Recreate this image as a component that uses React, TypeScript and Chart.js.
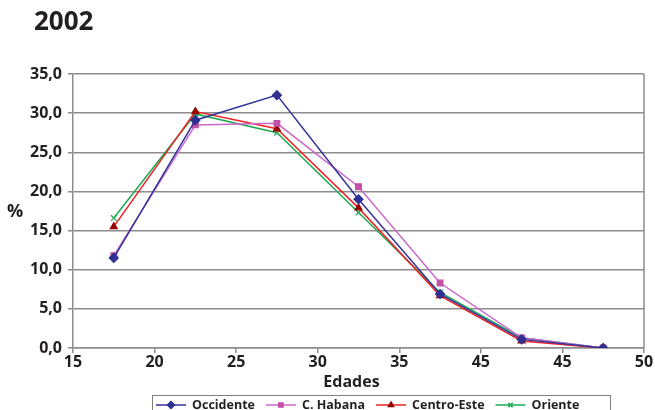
import React, { useEffect, useRef } from "react";
import { Chart, registerables } from "chart.js";
import { drawPoint } from "chart.js/helpers";

Chart.register(...registerables);

const edades = [17.5, 22.5, 27.5, 32.5, 37.5, 42.5, 47.5];
const occidente = [11.5, 29.1, 32.3, 19.0, 6.9, 1.1, 0.0];
const cHabana = [11.8, 28.5, 28.7, 20.6, 8.3, 1.3, 0.0];
const centroEste = [15.5, 30.2, 28.0, 17.9, 6.7, 0.9, 0.0];
const oriente = [16.6, 29.9, 27.5, 17.3, 7.1, 1.3, 0.0];

const xTickValues = [15, 20, 25, 30, 35, 40, 45, 50];
const xTickLabels = ["15", "20", "25", "30", "35", "45", "45", "50"];

const titleText = "2002";
const xTitle = "Edades";
const yTitle = "%";

const FONT = "'Open Sans', 'DejaVu Sans', sans-serif";

const series = [
  { label: "Occidente", data: occidente, line: "#333399", marker: "#2E3192", style: "rectRot", radius: 4.5 },
  { label: "C. Habana", data: cHabana, line: "#CC66CC", marker: "#C050A8", style: "rect", radius: 4 },
  { label: "Centro-Este", data: centroEste, line: "#EE2222", marker: "#990000", style: "triangle", radius: 4 },
  { label: "Oriente", data: oriente, line: "#1EAA55", marker: "#1EAA55", style: "crossRot", radius: 4 },
];

const decorPlugin = {
  id: "decor",
  beforeDatasetsDraw(chart: any) {
    const { ctx, chartArea } = chart;
    ctx.save();
    ctx.strokeStyle = "#8c8c8c";
    ctx.lineWidth = 1.5;
    ctx.beginPath();
    ctx.moveTo(chartArea.right, chartArea.top);
    ctx.lineTo(chartArea.right, chartArea.bottom);
    ctx.stroke();
    ctx.restore();
  },
  afterDraw(chart: any) {
    const { ctx } = chart;
    ctx.save();
    ctx.fillStyle = "#231f20";
    ctx.font = `bold 26px ${FONT}`;
    ctx.textBaseline = "middle";
    ctx.textAlign = "left";
    ctx.fillText(titleText, 34, 23);
    ctx.font = `bold 18px ${FONT}`;
    ctx.fillText(yTitle, 7, 212);
    ctx.font = `bold 16px ${FONT}`;
    ctx.textAlign = "center";
    ctx.fillText(xTitle, (chart.chartArea.left + chart.chartArea.right) / 2 - 7, 382);
    ctx.textAlign = "left";
    ctx.strokeStyle = "#808080";
    ctx.lineWidth = 1;
    ctx.strokeRect(152.5, 395.5, 458, 30);
    ctx.font = `bold 12.5px ${FONT}`;
    let x = 156;
    const cy = 405;
    chart.data.datasets.forEach((ds: any) => {
      ctx.strokeStyle = ds.borderColor;
      ctx.lineWidth = 1.5;
      ctx.beginPath();
      ctx.moveTo(x, cy);
      ctx.lineTo(x + 30, cy);
      ctx.stroke();
      ctx.fillStyle = ds.pointBackgroundColor;
      ctx.strokeStyle = ds.pointBorderColor;
      drawPoint(ctx, { pointStyle: ds.pointStyle, radius: ds.pointRadius - 1, rotation: 0, borderWidth: 1.2 }, x + 15, cy);
      ctx.fillStyle = "#231f20";
      ctx.fillText(ds.label, x + 36, cy);
      x += 36 + ctx.measureText(ds.label).width + 11;
    });
    ctx.restore();
  },
};

export default function App() {
  const ref = useRef<HTMLCanvasElement>(null);
  useEffect(() => {
    document.body.style.margin = "0";
    const chart = new Chart(ref.current as HTMLCanvasElement, {
      type: "line",
      data: {
        datasets: series.map((s) => ({
          label: s.label,
          data: edades.map((e, i) => ({ x: e, y: s.data[i] })),
          borderColor: s.line,
          backgroundColor: s.marker,
          pointBackgroundColor: s.marker,
          pointBorderColor: s.marker,
          pointStyle: s.style as any,
          pointRadius: s.radius,
          pointBorderWidth: 1.2,
          borderWidth: 1.5,
          tension: 0,
        })),
      },
      options: {
        animation: false,
        responsive: false,
        devicePixelRatio: 1,
        layout: { padding: { top: 74, left: 0, right: 11, bottom: 0 } },
        plugins: { legend: { display: false }, title: { display: false }, tooltip: { enabled: false } },
        scales: {
          x: {
            type: "linear",
            min: 15,
            max: 50,
            afterFit: (s: any) => { s.height = 62; },
            afterBuildTicks: (s: any) => { s.ticks = xTickValues.map((v) => ({ value: v })); },
            ticks: {
              callback: (v: any) => xTickLabels[xTickValues.indexOf(Number(v))],
              font: { family: FONT, size: 16, weight: "bold" },
              color: "#231f20",
              padding: 0,
              maxRotation: 0,
              autoSkip: false,
            },
            grid: { drawOnChartArea: false, drawTicks: true, tickLength: 5, color: "#8c8c8c", lineWidth: 1.5 },
            border: { display: true, color: "#8c8c8c", width: 1.5 },
          },
          y: {
            min: 0,
            max: 35,
            afterFit: (s: any) => { s.width = 73; },
            ticks: {
              stepSize: 5,
              callback: (v: any) => Number(v).toFixed(1).replace(".", ","),
              font: { family: FONT, size: 16, weight: "bold" },
              color: "#231f20",
              padding: 6,
            },
            grid: { color: "#8c8c8c", lineWidth: 1.5, tickLength: 5 },
            border: { display: true, color: "#8c8c8c", width: 1.5 },
          },
        },
      },
      plugins: [decorPlugin],
    });
    return () => chart.destroy();
  }, []);
  return <canvas ref={ref} width={655} height={410} style={{ display: "block", width: 655, height: 410 }} />;
}
